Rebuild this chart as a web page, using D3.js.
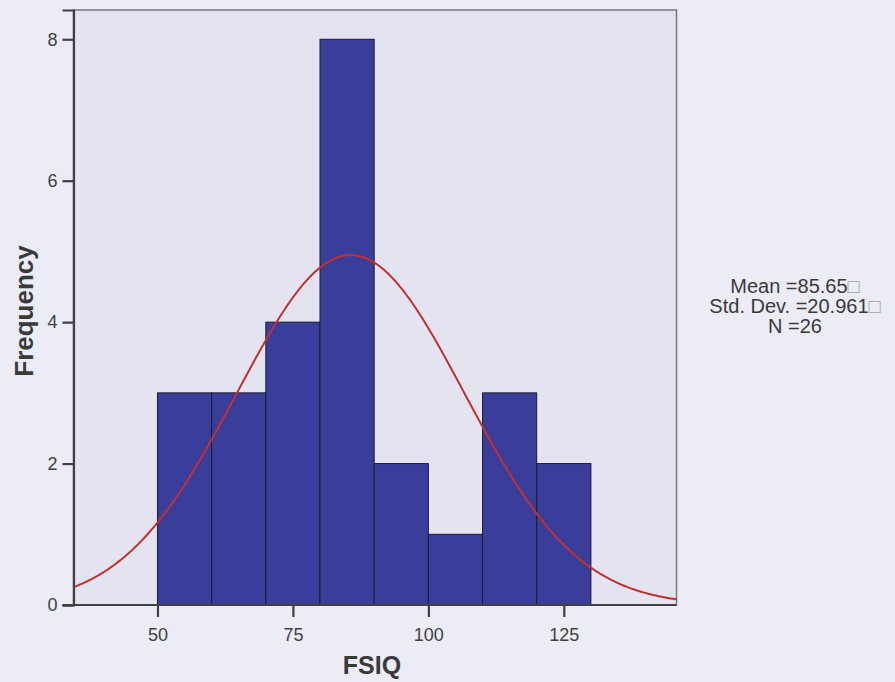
<!DOCTYPE html>
<html>
<head>
<meta charset="utf-8">
<script src="https://cdn.jsdelivr.net/npm/d3@7"></script>
<style>
  body { margin: 0; background: #ececf6; }
  svg { display: block; font-family: "Liberation Sans", Arial, sans-serif; }
</style>
</head>
<body>
<div id="chart"></div>
<script>
// histogram data
const binEdges = [50, 60, 70, 80, 90, 100, 110, 120, 130];
const counts = [3, 3, 4, 8, 2, 1, 3, 2];
const xTicks = [50, 75, 100, 125];
const yTicks = [0, 2, 4, 6, 8];
const statLines = ["Mean =85.65", "Std. Dev. =20.961", "N =26"];
const statBox = [true, true, false];
const mean = 85.65, sd = 20.961, n = 26;

const width = 895, height = 682;
const plot = { left: 73.5, right: 676.5, top: 10, bottom: 605 };

const svg = d3.select("#chart").append("svg")
  .attr("width", width)
  .attr("height", height);

const x = d3.scaleLinear().domain([34.5, 145.8]).range([plot.left, plot.right]);
const y = d3.scaleLinear().domain([0, 8.414]).range([plot.bottom, plot.top]);

// plot background + frame
svg.append("rect")
  .attr("x", plot.left).attr("y", plot.top)
  .attr("width", plot.right - plot.left).attr("height", plot.bottom - plot.top)
  .attr("fill", "#e4e4f0")
  .attr("stroke", "#77777f")
  .attr("stroke-width", 1.5);

// bars
const bins = counts.map((c, i) => ({ x0: binEdges[i], x1: binEdges[i + 1], count: c }));
svg.append("g").selectAll("rect")
  .data(bins)
  .join("rect")
  .attr("x", d => x(d.x0))
  .attr("y", d => y(d.count))
  .attr("width", d => x(d.x1) - x(d.x0))
  .attr("height", d => y(0) - y(d.count))
  .attr("fill", "#3a3e9b")
  .attr("stroke", "#1c1c30")
  .attr("stroke-width", 1);

// normal curve from mean / sd
const binWidth = binEdges[1] - binEdges[0];
const norm = v => n * binWidth / (sd * Math.sqrt(2 * Math.PI)) * Math.exp(-0.5 * ((v - mean) / sd) ** 2);
const xs = d3.range(x.domain()[0], x.domain()[1], 0.25).concat([x.domain()[1]]);
svg.append("path")
  .datum(xs)
  .attr("fill", "none")
  .attr("stroke", "#c4302f")
  .attr("stroke-width", 2)
  .attr("d", d3.line().x(d => x(d)).y(d => y(norm(d))));

// axes
const xAxis = svg.append("g")
  .attr("transform", "translate(0," + plot.bottom + ")")
  .call(d3.axisBottom(x).tickValues(xTicks).tickSizeOuter(0).tickSize(12).tickPadding(11));
const yAxis = svg.append("g")
  .attr("transform", "translate(" + plot.left + ",0)")
  .call(d3.axisLeft(y).tickValues(yTicks).tickSizeOuter(0).tickSize(11).tickPadding(5));

[xAxis, yAxis].forEach(g => {
  g.select(".domain").attr("stroke", "#404040").attr("stroke-width", 2.2);
  g.selectAll(".tick line").attr("stroke", "#404040").attr("stroke-width", 2.2);
  g.selectAll(".tick text").attr("fill", "#404040").style("font-size", "18px");
});
// x axis line starts at the 0 tick
xAxis.select(".domain").attr("d", "M" + (plot.left - 11) + ",0H" + plot.right);

// axis titles
svg.append("text")
  .attr("x", 372).attr("y", 674)
  .attr("text-anchor", "middle")
  .attr("fill", "#3a3a3a")
  .style("font-size", "25px").style("font-weight", "bold")
  .text("FSIQ");

svg.append("text")
  .attr("transform", "translate(33,311) rotate(-90)")
  .attr("text-anchor", "middle")
  .attr("fill", "#3a3a3a")
  .style("font-size", "26px").style("font-weight", "bold")
  .text("Frequency");

// stats box
const stats = svg.append("g").selectAll("text")
  .data(statLines)
  .join("text")
  .attr("x", 795)
  .attr("y", (d, i) => 293 + i * 20)
  .attr("text-anchor", "middle")
  .attr("fill", "#3a3a3a")
  .style("font-size", "20px");
stats.append("tspan").text(d => d);
stats.filter((d, i) => statBox[i]).append("tspan")
  .attr("fill", "#a0a0aa")
  .style("font-size", "20px")
  .text("\u25A1");
</script>
</body>
</html>
